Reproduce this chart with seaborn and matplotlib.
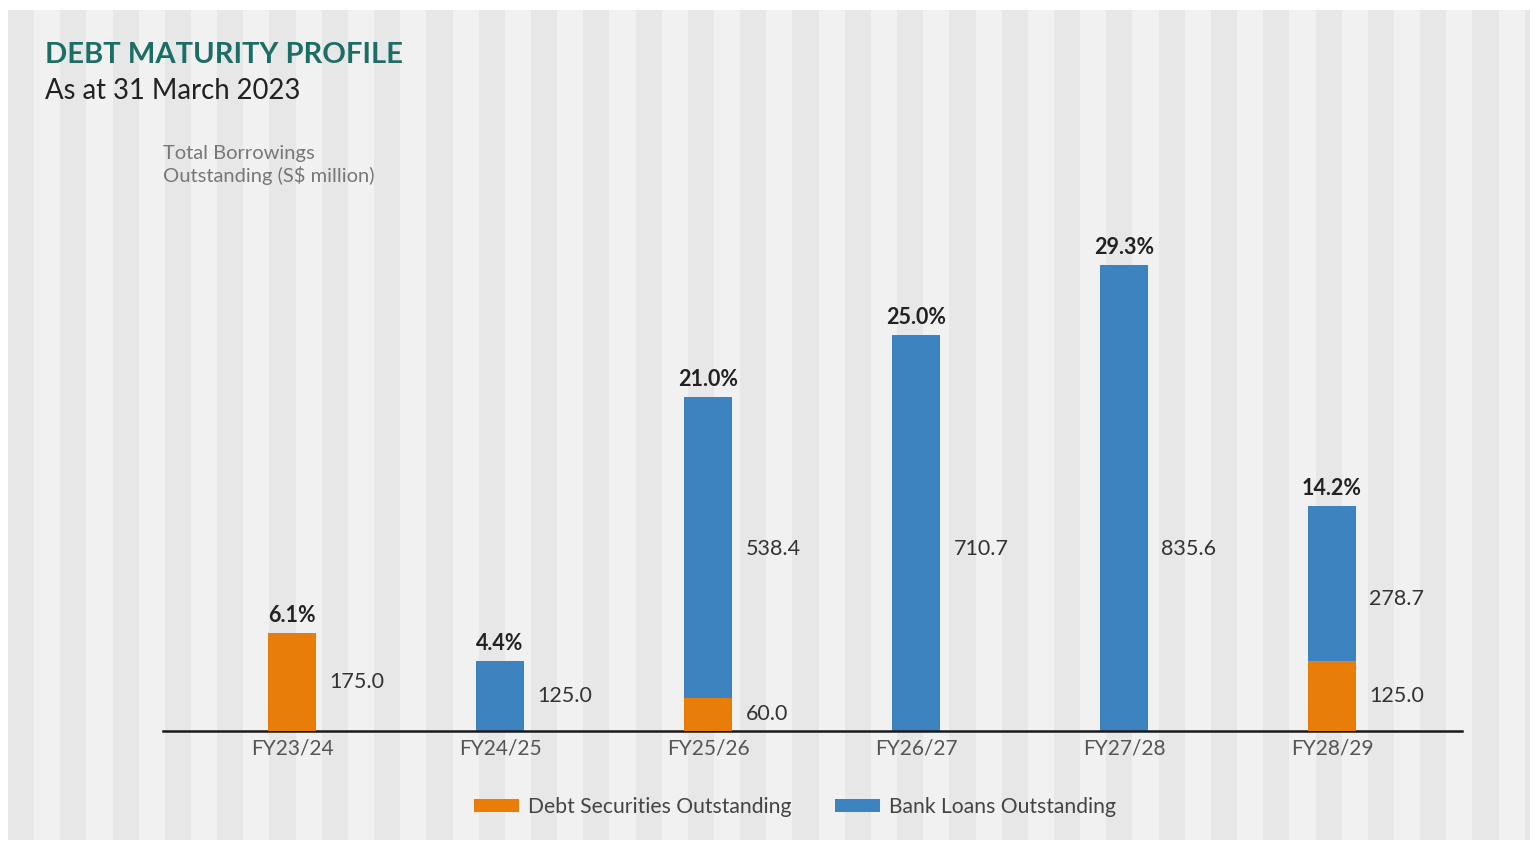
import matplotlib
matplotlib.use("Agg")
import matplotlib.pyplot as plt
import seaborn as sns
import numpy as np
from matplotlib.patches import Patch

categories = ["FY23/24", "FY24/25", "FY25/26", "FY26/27", "FY27/28", "FY28/29"]
debt_securities = [175.0, 0.0, 60.0, 0.0, 0.0, 125.0]
bank_loans = [0.0, 125.0, 538.4, 710.7, 835.6, 278.7]
pct_labels = ["6.1%", "4.4%", "21.0%", "25.0%", "29.3%", "14.2%"]

title = "DEBT MATURITY PROFILE"
subtitle = "As at 31 March 2023"
ylabel = "Total Borrowings\nOutstanding (S$ million)"
legend_labels = ["Debt Securities Outstanding", "Bank Loans Outstanding"]

ORANGE = "#E97D0A"
BLUE = "#3D83BF"
TEAL = "#1B6E66"

sns.set_theme(style="white")
plt.rcParams["font.family"] = ["Lato", "DejaVu Sans"]

W, H = 1530, 841
fig = plt.figure(figsize=(W / 100, H / 100), dpi=100)
fig.patch.set_facecolor("white")

# decorative striped background
bg = fig.add_axes([0, 0, 1, 1], zorder=0)
bg.set_xlim(0, W)
bg.set_ylim(H, 0)
bg.axis("off")
x0, period = 8, 52.3
x = x0
i = 0
while x < W:
    col = "#E7E7E7" if i % 2 == 0 else "#F1F1F1"
    bg.add_patch(plt.Rectangle((x, 10), period / 2, 830, color=col, lw=0))
    x += period / 2
    i += 1

# main axes
left, right = 163 / W, 1462 / W
bottom, top = (H - 731) / H, (H - 231) / H
ax = fig.add_axes([left, bottom, right - left, top - bottom], zorder=1)
ax.patch.set_alpha(0)

totals = [d + b for d, b in zip(debt_securities, bank_loans)]
sns.barplot(x=categories, y=totals, color=BLUE, width=0.23, saturation=1,
            linewidth=0, ax=ax, zorder=2)
sns.barplot(x=categories, y=debt_securities, color=ORANGE, width=0.23,
            saturation=1, linewidth=0, ax=ax, zorder=3)

ax.set_xlim(-0.62, 5.625)
ax.set_ylim(0, 896.5)
for s in ["top", "right", "left"]:
    ax.spines[s].set_visible(False)
ax.spines["bottom"].set_color("#1a1a1a")
ax.spines["bottom"].set_linewidth(1.8)
ax.set_yticks([])
ax.set_ylabel("")
ax.set_xlabel("")
ax.tick_params(axis="x", length=0, pad=5.5, labelsize=15, labelcolor="#555555")

LABEL_CAP = 326  # keep tall bank-loan labels at a common height
for i, (d, b, p) in enumerate(zip(debt_securities, bank_loans, pct_labels)):
    if d > 0:
        ax.text(i + 0.18, d / 2, f"{d:.1f}", ha="left", va="center",
                fontsize=15.5, color="#333333")
    if b > 0:
        y = d + b / 2
        if b > 250:
            y = min(y, LABEL_CAP) if d < 100 else d + 0.4 * b
        ax.text(i + 0.18, y, f"{b:.1f}", ha="left", va="center",
                fontsize=15.5, color="#333333")
    ax.annotate(p, (i, d + b), xytext=(0, 5), textcoords="offset points",
                ha="center", va="bottom", fontsize=15.5, fontweight="bold",
                color="#222222")

# titles
fig.text(45 / W, 1 - 55 / H, title, fontsize=21, fontweight="bold",
         color=TEAL, ha="left", va="center")
fig.text(45 / W, 1 - 91 / H, subtitle, fontsize=19.8, color="#222222",
         ha="left", va="center")
fig.text(163 / W, 1 - 165 / H, ylabel, fontsize=14.5, color="#777777",
         ha="left", va="center", linespacing=1.25)

# legend
handles = [Patch(color=ORANGE, lw=0), Patch(color=BLUE, lw=0)]
leg = fig.legend(handles, legend_labels, loc="center",
                 bbox_to_anchor=(795 / W, 1 - 807 / H), ncol=2, frameon=False,
                 fontsize=15.2, handlelength=2.1, handleheight=0.55,
                 columnspacing=2.1, handletextpad=0.43)
for t in leg.get_texts():
    t.set_color("#444444")

fig.savefig("out.png", dpi=100)
